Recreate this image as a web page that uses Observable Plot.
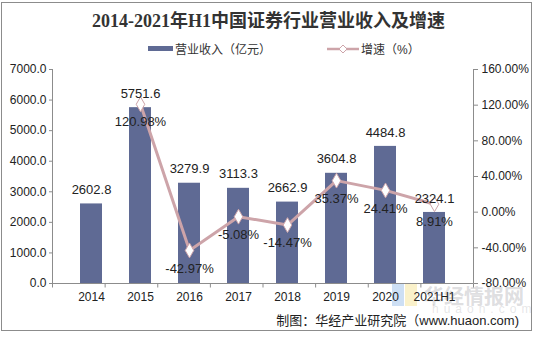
<!DOCTYPE html>
<html><head><meta charset="utf-8">
<script src="https://cdn.jsdelivr.net/npm/d3@7"></script>
<script src="https://cdn.jsdelivr.net/npm/@observablehq/plot@0.6"></script>
<style>
body{margin:0;background:#fff;}
#wrap{position:relative;width:537px;height:337px;overflow:hidden;background:#fff;font-family:"Liberation Sans",Arial,"Noto Sans CJK SC",sans-serif;color:#222;}
#frame{position:absolute;left:1px;top:2px;width:531px;height:329px;border:1px solid #8c8c8c;box-sizing:border-box;}
#title{position:absolute;left:0;width:537px;top:6px;text-align:center;font-family:"Liberation Serif","Noto Sans CJK SC",serif;font-weight:bold;font-size:18px;color:#333;}
#legend{position:absolute;top:40px;left:0;width:537px;font-size:12px;color:#333;}
.li{position:absolute;top:0;display:flex;align-items:center;white-space:nowrap;}
#chart{position:absolute;left:0;top:50px;}
#caption{position:absolute;right:18px;top:310px;font-size:13px;color:#222;}
#wm{position:absolute;left:424px;top:281px;font-size:20px;font-weight:bold;color:rgba(170,170,175,0.4);font-family:"Noto Sans CJK SC",sans-serif;}
#wm2{position:absolute;left:432px;top:302px;font-size:12px;color:rgba(170,170,175,0.3);letter-spacing:5px;}
#logo1{position:absolute;left:392px;top:284px;width:12px;height:22px;background:rgba(90,150,220,0.3);}
#logo2{position:absolute;left:405px;top:284px;width:12px;height:22px;background:rgba(240,210,80,0.3);}
</style></head>
<body>
<div id="wrap">
  <div id="frame"></div>
  <div id="title">2014-2021年H1中国证券行业营业收入及增速</div>
  <div id="legend">
    <div class="li" style="left:148px;"><span style="display:inline-block;width:25px;height:5px;background:#5f6a94;margin-right:2px;"></span><span>营业收入（亿元）</span></div>
    <div class="li" style="left:327px;"><svg width="32" height="12"><line x1="0" y1="6" x2="32" y2="6" stroke="#cda4a9" stroke-width="2.5"/><path d="M16,2 L20,6 L16,10 L12,6 Z" fill="#fff" stroke="#cda4a9" stroke-width="1"/></svg><span style="margin-left:2px;">增速（%）</span></div>
  </div>
  <div id="logo1"></div><div id="logo2"></div>
  <div id="wm">华经情报网</div>
  <div id="wm2">huaon.com</div>
  <div id="chart"></div>
  <div id="caption">制图：华经产业研究院（www.huaon.com)</div>
</div>
<script>
const years = ["2014","2015","2016","2017","2018","2019","2020","2021H1"];
const revenue = [2602.8,5751.6,3279.9,3113.3,2662.9,3604.8,4484.8,2324.1];
const growth = [null,120.98,-42.97,-5.08,-14.47,35.37,24.41,8.91];
const leftTicks = [0,1000,2000,3000,4000,5000,6000,7000];
const rightTicks = [-80,-40,0,40,80,120,160];

const yMax = 7000, gMin = -80, gMax = 160;
const toLeft = g => (g - gMin) / (gMax - gMin) * yMax;
const fromLeft = v => v / yMax * (gMax - gMin) + gMin;

const bars = years.map((y,i)=>({year:y, value:revenue[i]}));
const pts = years.map((y,i)=>({year:y, g:growth[i]})).filter(d=>d.g!==null);

const axisColor = "#8c8c8c";
const axisLines = (index, scales, values, dims) => {
  const g = d3.create("svg:g").attr("stroke", axisColor).attr("stroke-width", 1);
  const l = dims.marginLeft - 0.5, r = dims.width - dims.marginRight + 0.5;
  const t = dims.marginTop, b = dims.height - dims.marginBottom + 0.5;
  g.append("line").attr("x1", l).attr("x2", l).attr("y1", t).attr("y2", b);
  g.append("line").attr("x1", r).attr("x2", r).attr("y1", t).attr("y2", b);
  g.append("line").attr("x1", l).attr("x2", r).attr("y1", b).attr("y2", b);
  const step = (r - l) / years.length;
  for (let i = 0; i <= years.length; i++) {
    g.append("line").attr("x1", l + i*step).attr("x2", l + i*step).attr("y1", b).attr("y2", b + 4);
  }
  return g.node();
};

const chart = Plot.plot({
  width: 537,
  height: 270,
  marginLeft: 53,
  marginRight: 64,
  marginTop: 19,
  marginBottom: 37,
  style: {fontFamily: '"Liberation Sans", Arial, sans-serif', background: "transparent", color: "#222"},
  x: {type: "band", domain: years, padding: 0.55, axis: null},
  y: {domain: [0, yMax], axis: null},
  marks: [
    Plot.barY(bars, {x: "year", y: "value", fill: "#5f6a94"}),
    axisLines,
    Plot.axisY(leftTicks, {anchor: "left", label: null, tickSize: 4, tickPadding: 3, fontSize: 12, stroke: axisColor, fill: "#222", tickFormat: d => d.toFixed(1)}),
    Plot.axisY(rightTicks.map(toLeft), {anchor: "right", label: null, tickSize: 4, tickPadding: 4, fontSize: 12, stroke: axisColor, fill: "#222", tickFormat: v => fromLeft(v).toFixed(2) + "%"}),
    Plot.axisX(years, {anchor: "bottom", label: null, tickSize: 0, tickPadding: 9, fontSize: 12, fill: "#222"}),
    Plot.line(pts, {x: "year", y: d => toLeft(d.g), stroke: "#cda4a9", strokeWidth: 3}),
    Plot.dot(pts, {x: "year", y: d => toLeft(d.g), symbol: "diamond", r: 4.5, fill: "#fff", stroke: "#cda4a9", strokeWidth: 1}),
    Plot.text(bars, {x: "year", y: "value", text: d => d.value.toFixed(1), dy: -14, fontSize: 13, fill: "#222"}),
    Plot.text(pts, {x: "year", y: d => toLeft(d.g), text: d => d.g.toFixed(2) + "%", dy: 18, fontSize: 13, fill: "#222"})
  ]
});
document.getElementById("chart").appendChild(chart);
</script>
</body></html>
